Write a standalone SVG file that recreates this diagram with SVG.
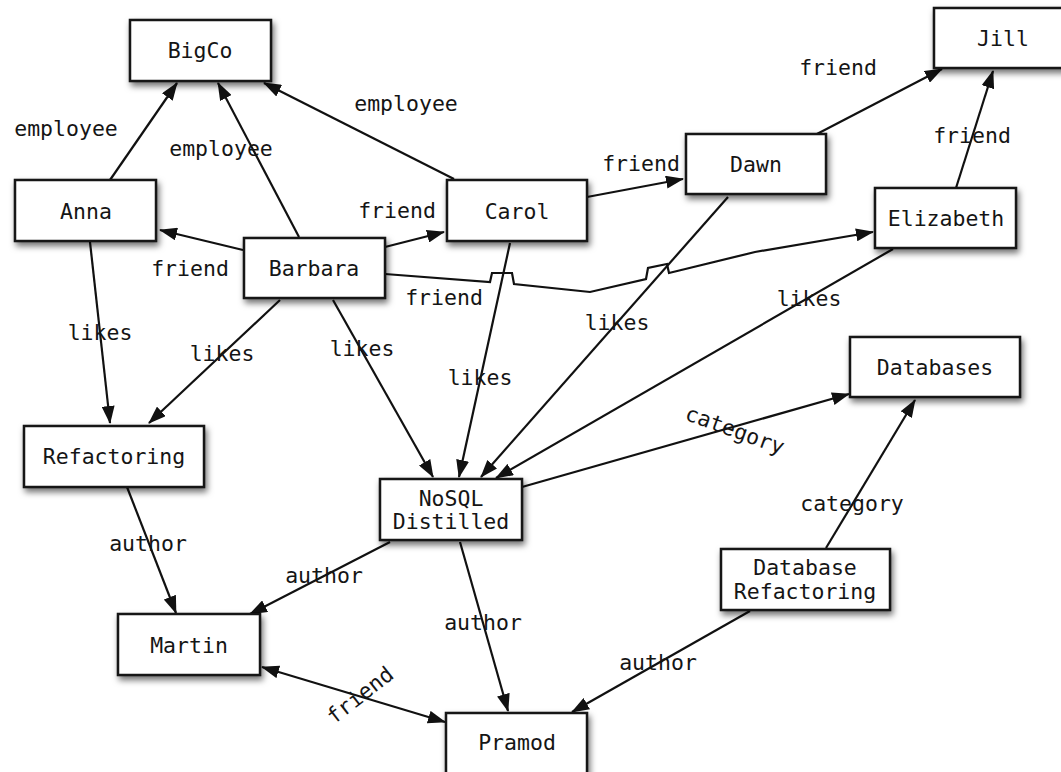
<svg xmlns="http://www.w3.org/2000/svg" width="1061" height="772" viewBox="0 0 1061 772">
  <style>
    .box { fill: #ffffff; stroke: #151515; stroke-width: 2.5; filter: url(#shadow); }
    .name { font-family: "DejaVu Sans Mono", "Liberation Mono", monospace; font-size: 21.5px; fill: #151515; text-anchor: middle; dominant-baseline: central; }
    .edge { fill: none; stroke: #111111; stroke-width: 2.2; marker-end: url(#arrow); }
    .label { font-family: "DejaVu Sans Mono", "Liberation Mono", monospace; font-size: 21.5px; fill: #151515; text-anchor: middle; dominant-baseline: central; }
  </style>
  <defs>
    <filter id="shadow" x="-20%" y="-20%" width="150%" height="160%">
      <feDropShadow dx="2" dy="4" stdDeviation="3" flood-color="#000000" flood-opacity="0.55"/>
    </filter>
    <marker id="arrow" viewBox="0 0 18 13" refX="17" refY="6.5" markerWidth="18" markerHeight="13" markerUnits="userSpaceOnUse" orient="auto-start-reverse">
      <path d="M0,0 L18,6.5 L0,13 z" fill="#111111"/>
    </marker>
  </defs>

  <rect width="1061" height="772" fill="#ffffff"/>

  <!-- connectors -->
  <g id="connectors">
    <path class="edge" d="M110,180 L177,83"/>
    <path class="edge" d="M299,237 L218,83"/>
    <path class="edge" d="M454,179 L264,83"/>
    <path class="edge" d="M243,250 L160,230"/>
    <path class="edge" d="M385,247 L444,232"/>
    <path class="edge" d="M385,274 L490,282 L492,273 L512,273 L514,284 L590,292 L646,279 L648,268 L667,264 L669,273 L755,252 L873,232"/>
    <path class="edge" d="M587,197 L683,179"/>
    <path class="edge" d="M815,135 L942,69"/>
    <path class="edge" d="M956,188 L993,71"/>
    <path class="edge" d="M90,242 L110,423"/>
    <path class="edge" d="M280,300 L149,423"/>
    <path class="edge" d="M333,300 L433,477"/>
    <path class="edge" d="M510,243 L459,477"/>
    <path class="edge" d="M728,197 L481,477"/>
    <path class="edge" d="M893,249 L496,478"/>
    <path class="edge" d="M522,487 L849,394"/>
    <path class="edge" d="M826,548 L915,400"/>
    <path class="edge" d="M127,487 L176,613"/>
    <path class="edge" d="M390,542 L250,614"/>
    <path class="edge" d="M460,542 L508,711"/>
    <path class="edge" d="M750,611 L572,712"/>
    <path class="edge" d="M262,667 L445,722" marker-start="url(#arrow)"/>

    <text class="label" x="66" y="128">employee</text>
    <text class="label" x="221" y="148">employee</text>
    <text class="label" x="406" y="103">employee</text>
    <text class="label" x="190" y="268">friend</text>
    <text class="label" x="397" y="210">friend</text>
    <text class="label" x="444" y="297">friend</text>
    <text class="label" x="641" y="163">friend</text>
    <text class="label" x="838" y="67">friend</text>
    <text class="label" x="972" y="135">friend</text>
    <text class="label" x="100" y="332">likes</text>
    <text class="label" x="222" y="353">likes</text>
    <text class="label" x="362" y="348">likes</text>
    <text class="label" x="480" y="377">likes</text>
    <text class="label" x="617" y="322">likes</text>
    <text class="label" x="809" y="298">likes</text>
    <text class="label" x="735" y="430" transform="rotate(20 735 430)">category</text>
    <text class="label" x="852" y="503">category</text>
    <text class="label" x="148" y="543">author</text>
    <text class="label" x="324" y="575">author</text>
    <text class="label" x="483" y="622">author</text>
    <text class="label" x="658" y="662">author</text>
    <text class="label" x="360" y="695" transform="rotate(-38 360 695)">friend</text>
  </g>

  <!-- nodes -->
  <g id="node-bigco">
    <rect class="box" x="130" y="20" width="141" height="61"/>
    <text class="name" x="200" y="50">BigCo</text>
  </g>
  <g id="node-jill">
    <rect class="box" x="934" y="8" width="150" height="60"/>
    <text class="name" x="1003" y="38">Jill</text>
  </g>
  <g id="node-anna">
    <rect class="box" x="15" y="180" width="141" height="61"/>
    <text class="name" x="86" y="211">Anna</text>
  </g>
  <g id="node-barbara">
    <rect class="box" x="244" y="238" width="141" height="60"/>
    <text class="name" x="314" y="268">Barbara</text>
  </g>
  <g id="node-carol">
    <rect class="box" x="447" y="180" width="140" height="61"/>
    <text class="name" x="517" y="211">Carol</text>
  </g>
  <g id="node-dawn">
    <rect class="box" x="686" y="134" width="140" height="60"/>
    <text class="name" x="756" y="164">Dawn</text>
  </g>
  <g id="node-elizabeth">
    <rect class="box" x="875" y="188" width="141" height="60"/>
    <text class="name" x="946" y="218">Elizabeth</text>
  </g>
  <g id="node-databases">
    <rect class="box" x="850" y="337" width="170" height="60"/>
    <text class="name" x="935" y="367">Databases</text>
  </g>
  <g id="node-refactoring">
    <rect class="box" x="24" y="426" width="180" height="61"/>
    <text class="name" x="114" y="456">Refactoring</text>
  </g>
  <g id="node-nosql">
    <rect class="box" x="380" y="479" width="142" height="61"/>
    <text class="name" x="451" y="498">NoSQL</text>
    <text class="name" x="451" y="521">Distilled</text>
  </g>
  <g id="node-dbrefactoring">
    <rect class="box" x="721" y="549" width="169" height="61"/>
    <text class="name" x="805" y="567">Database</text>
    <text class="name" x="805" y="591">Refactoring</text>
  </g>
  <g id="node-martin">
    <rect class="box" x="118" y="614" width="142" height="61"/>
    <text class="name" x="189" y="645">Martin</text>
  </g>
  <g id="node-pramod">
    <rect class="box" x="446" y="713" width="141" height="70"/>
    <text class="name" x="517" y="742">Pramod</text>
  </g>
</svg>
